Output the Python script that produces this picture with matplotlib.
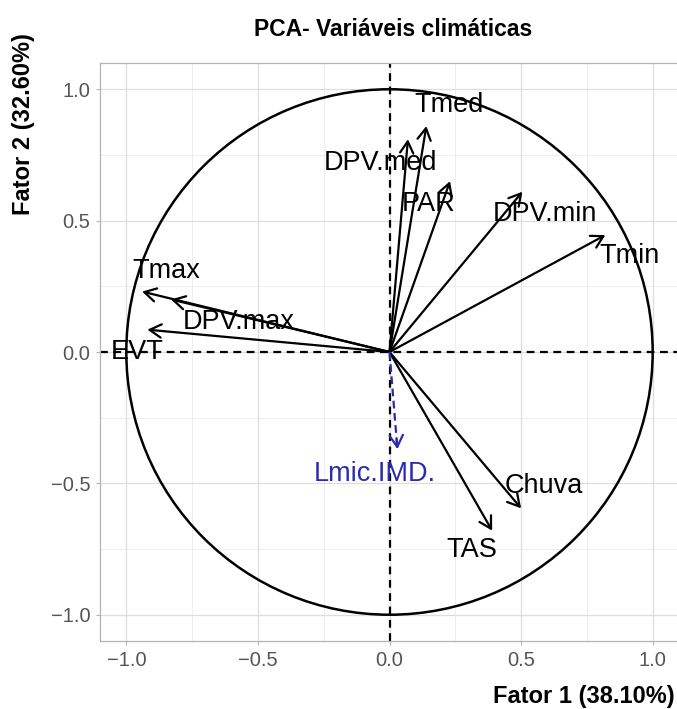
"""
PCA correlation circle for the climate variables.
"""
import numpy as np
import matplotlib
matplotlib.use('Agg')
import matplotlib.pyplot as plt
from matplotlib.patches import Circle

plt.rcParams['font.family'] = ['Liberation Sans', 'DejaVu Sans']

# Loadings of the active variables on the first two factors
variables = ['Tmed', 'DPV.med', 'PAR', 'DPV.min', 'Tmin',
             'Tmax', 'DPV.max', 'EVT', 'Chuva', 'TAS']
fator1 = [0.14, 0.07, 0.23, 0.505, 0.82, -0.94, -0.83, -0.92, 0.50, 0.39]
fator2 = [0.86, 0.81, 0.65, 0.61, 0.445, 0.23, 0.20, 0.085, -0.595, -0.68]

# Supplementary variable
sup_variable = 'Lmic.IMD.'
sup_fator1 = 0.03
sup_fator2 = -0.37

var_fator1 = 38.10
var_fator2 = 32.60

# Label placement relative to the arrow tips (data units)
label_offsets = {
    'Tmed': (0.086, 0.082),
    'DPV.med': (-0.105, -0.089),
    'PAR': (-0.08, -0.085),
    'DPV.min': (0.087, -0.085),
    'Tmin': (0.092, -0.079),
    'Tmax': (0.091, 0.078),
    'DPV.max': (0.258, -0.085),
    'EVT': (-0.04, -0.084),
    'Chuva': (0.085, 0.084),
    'TAS': (-0.078, -0.073),
    'Lmic.IMD.': (-0.086, -0.094),
}

W, H = 677, 709
fig = plt.figure(figsize=(W / 100, H / 100), dpi=100)
ax = fig.add_axes([100 / W, 68 / H, 579 / W, 578 / H])
ax.set_xlim(-1.1, 1.1)
ax.set_ylim(-1.1, 1.1)

# theme_light style grid and border
ax.set_xticks([-1.0, -0.5, 0.0, 0.5, 1.0])
ax.set_yticks([-1.0, -0.5, 0.0, 0.5, 1.0])
ax.set_xticks([-0.75, -0.25, 0.25, 0.75], minor=True)
ax.set_yticks([-0.75, -0.25, 0.25, 0.75], minor=True)
ax.grid(True, which='major', color='#DEDEDE', linewidth=0.9, zorder=0)
ax.grid(True, which='minor', color='#EBEBEB', linewidth=0.6, zorder=0)
ax.set_axisbelow(True)
for spine in ax.spines.values():
    spine.set_color('#B3B3B3')
    spine.set_linewidth(0.9)
ax.tick_params(which='major', length=3, width=0.8, color='#B3B3B3',
               labelsize=14.5, labelcolor='#555555', pad=4)
ax.tick_params(which='minor', length=0)

# Unit circle and axes through the origin
ax.add_patch(Circle((0, 0), 1.0, fill=False, color='black', linewidth=1.8, zorder=2))
ax.axhline(0, color='black', linestyle=(0, (3.5, 2.5)), linewidth=1.6, zorder=2)
ax.axvline(0, color='black', linestyle=(0, (3.5, 2.5)), linewidth=1.6, zorder=2)

head = '->,head_length=0.42,head_width=0.24'

for name, x, y in zip(variables, fator1, fator2):
    ax.annotate('', xy=(x, y), xytext=(0, 0),
                arrowprops=dict(arrowstyle=head, mutation_scale=20, color='black',
                                linewidth=1.6, shrinkA=0, shrinkB=0), zorder=3)
    dx, dy = label_offsets[name]
    ax.text(x + dx, y + dy, name, fontsize=19.5, color='black',
            ha='center', va='center', zorder=4)

# Supplementary variable: dashed blue arrow
blue = '#2B2BAF'
ax.plot([0, sup_fator1], [0, sup_fator2], color=blue, linestyle=(0, (3.5, 2)),
        linewidth=1.6, zorder=3)
ax.annotate('', xy=(sup_fator1, sup_fator2),
            xytext=(sup_fator1 * 0.9, sup_fator2 * 0.9),
            arrowprops=dict(arrowstyle=head, mutation_scale=20, color=blue,
                            linewidth=1.6, shrinkA=0, shrinkB=0), zorder=3)
dx, dy = label_offsets[sup_variable]
ax.text(sup_fator1 + dx, sup_fator2 + dy, sup_variable, fontsize=19.5, color=blue,
        ha='center', va='center', zorder=4)

# Titles
fig.text(393 / W, 1 - 36 / H, 'PCA- Variáveis climáticas', fontsize=16.5,
         fontweight='bold', ha='center', va='baseline')
fig.text(675 / W, 6 / H, f'Fator 1 ({var_fator1:.2f}%)', fontsize=17,
         fontweight='bold', ha='right', va='baseline')
fig.text(35 / W, 1 - 33 / H, f'Fator 2 ({var_fator2:.2f}%)', fontsize=17,
         fontweight='bold', ha='right', va='top', rotation=90)

fig.savefig('out.png', dpi=100)
